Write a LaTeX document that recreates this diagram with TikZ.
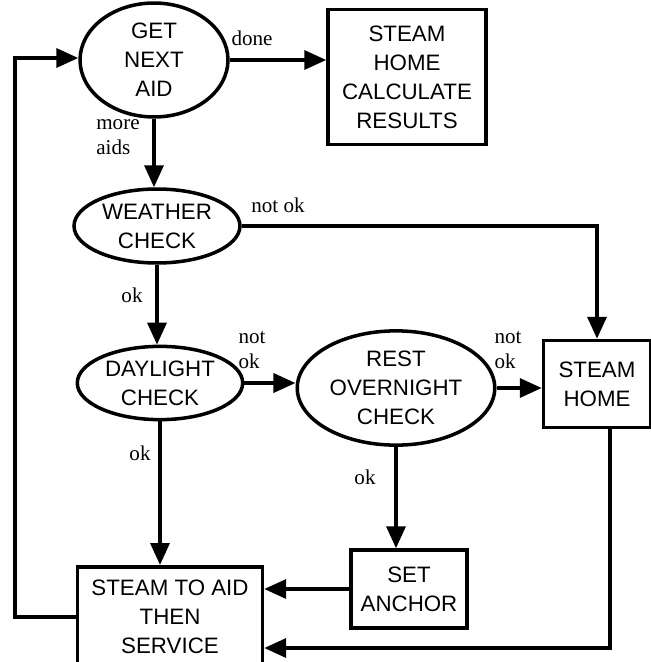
\documentclass[tikz,border=0pt]{standalone}
\usepackage{fontspec}
\setmainfont{Liberation Serif}
\setsansfont{Liberation Sans}
\usetikzlibrary{arrows.meta,shapes.geometric}

\begin{document}
\begin{tikzpicture}[
    x=0.02cm,y=-0.02cm,
    line width=2pt,
    box/.style={draw,align=center,inner sep=2pt,
                font=\sffamily\fontsize{12.7}{16.5}\selectfont},
    test/.style={box,ellipse},
    lbl/.style={font=\fontsize{12}{14.5}\selectfont,align=left,inner sep=0pt},
    arrow/.style={-{Triangle[length=4.4mm,width=3.8mm]}}
  ]
    \useasboundingbox (0,0) rectangle (651,662);
    \node[test,minimum width=2.96cm,minimum height=2cm] (next) at (154,60) {GET\\NEXT\\AID};
    \node[box,minimum width=3.16cm,minimum height=2.7cm] (results) at (407,77)
      {STEAM\\HOME\\CALCULATE\\RESULTS};
    \node[test,minimum width=3.32cm,minimum height=1.48cm] (weather) at (157,226) {WEATHER\\CHECK};
    \node[test,minimum width=3.3cm,minimum height=1.4cm] (daylight) at (160,383) {DAYLIGHT\\CHECK};
    \node[test,minimum width=3.86cm,minimum height=2cm] (rest) at (396,388) {REST\\OVERNIGHT\\CHECK};
    \node[box,minimum width=2.14cm,minimum height=1.74cm] (home) at (597,384) {STEAM\\HOME};
    \node[box,minimum width=2.32cm,minimum height=1.56cm] (anchor) at (409,589) {SET\\ANCHOR};
    \node[box,minimum width=3.7cm,minimum height=2cm,anchor=north] (service) at (170,565)
      {STEAM TO AID\\THEN\\SERVICE};
    \coordinate (loop) at (15,58);
    \coordinate (back) at (610,648);
    % labels
    \node[lbl] (ldone) at (252,38) {done};
    \node[lbl] (lmore) at (118,137) {more\\aids};
    \node[lbl] (lwno) at (278,205) {not ok};
    \node[lbl] (lwok) at (132,295) {ok};
    \node[lbl] (ldno) at (252,350) {not\\ok};
    \node[lbl] (ldok) at (140,453) {ok};
    \node[lbl] (lrno) at (508,350) {not\\ok};
    \node[lbl] (lrok) at (365,477) {ok};
    % connectors
    \draw[arrow] (next.east) -- (next.east -| results.west);
    \draw[arrow] (next.south) -- (next.south |- weather.north);
    \draw[arrow] (weather.east) -| (home.north);
    \draw[arrow] (weather.south) -- (weather.south |- daylight.north);
    \draw[arrow] (daylight.east) -- (daylight.east -| rest.west);
    \draw[arrow] (daylight.south) -- (daylight.south |- service.north);
    \draw[arrow] (rest.east) -- (rest.east -| home.west);
    \draw[arrow] (rest.south) -- (rest.south |- anchor.north);
    \draw[arrow] (anchor.west) -- (anchor.west -| service.east);
    \draw[arrow] (home.south -| back) -- (back) -- (back -| service.east);
    \draw[arrow] (service.west) -- (service.west -| loop) -- (loop) -- (next.west |- loop);
  \end{tikzpicture}
\end{document}
